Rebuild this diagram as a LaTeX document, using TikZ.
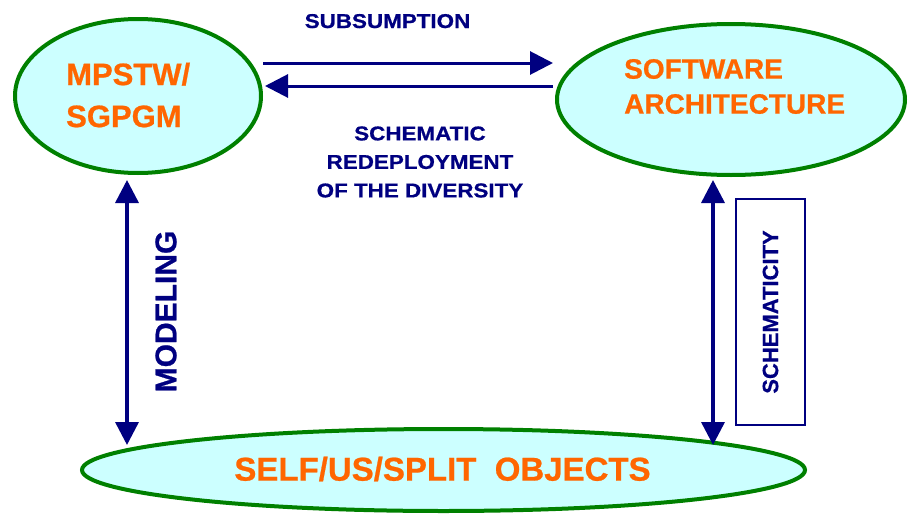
\documentclass[tikz,border=0pt]{standalone}
\usepackage{fontspec}
\setmainfont{Liberation Sans}[BoldFeatures={FakeBold=0.7}]
\newfontfamily\widesans{Liberation Sans}[FakeStretch=1.12,BoldFeatures={FakeBold=0.7}]
\usetikzlibrary{shapes.geometric,arrows.meta}
\definecolor{navyblue}{HTML}{000080}
\definecolor{leafgreen}{HTML}{008000}
\definecolor{palecyan}{HTML}{CCFFFF}
\definecolor{tangerine}{HTML}{FF6600}
\begin{document}
\begin{tikzpicture}[x=1pt,y=-1pt,
  bubble/.style={ellipse, draw=leafgreen, fill=palecyan, line width=4pt, inner sep=0pt},
  bubbletxt/.style={text=tangerine, inner sep=0pt},
  linktxt/.style={text=navyblue, inner sep=0pt},
  link/.style={draw=navyblue, line width=3pt, -{Triangle[length=23pt,width=23pt]}},
  twoway/.style={draw=navyblue, line width=3.5pt, {Triangle[length=23pt,width=23pt]}-{Triangle[length=23pt,width=23pt]}}
]
\useasboundingbox (0,0) rectangle (908,514);

% the three concepts
\node[bubble, minimum width=246pt, minimum height=154pt] (mps) at (138,96) {};
\node[bubble, minimum width=348pt, minimum height=151pt] (arch) at (731,99.5) {};
\node[bubble, minimum width=723pt, minimum height=82pt] (objs) at (443.5,470) {};

\node[bubbletxt, anchor=west, align=left, font=\bfseries\fontsize{31}{42}\selectfont] (mpstxt) at (66,95) {MPSTW/\\SGPGM};
\node[bubbletxt, anchor=west, align=left, font=\bfseries\fontsize{28}{35}\selectfont] (archtxt) at (624,86.5) {SOFTWARE\\ARCHITECTURE};
\node[bubbletxt, font=\bfseries\fontsize{33}{40}\selectfont] (objstxt) at (442.5,469) {SELF/US/SPLIT\ \ OBJECTS};

% horizontal relations
\draw[link] ([yshift=33pt]mps.east) -- ([xshift=-2pt,yshift=36.5pt]arch.west);
\draw[link] ([xshift=-2pt,yshift=13.5pt]arch.west) -- ([xshift=2pt,yshift=10pt]mps.east);

\node[linktxt, anchor=base, font=\widesans\bfseries\fontsize{20}{24}\selectfont] (subs) at (387.5,28) {SUBSUMPTION};
\node[linktxt, align=center, font=\widesans\bfseries\fontsize{20}{28.5}\selectfont] (redep) at (420,162) {SCHEMATIC\\REDEPLOYMENT\\OF THE DIVERSITY};

% vertical relations
\draw[twoway] ([xshift=-11pt,yshift=-5pt]mps.south) -- ([xshift=-316.5pt,yshift=-18pt]objs.north);
\draw[twoway] ([xshift=-18pt,yshift=-3pt]arch.south) -- ([xshift=269.5pt,yshift=-18pt]objs.north);

\node[linktxt, rotate=90, font=\bfseries\fontsize{30}{36}\selectfont] (model) at (166,311.5) {MODELING};
\node[linktxt, rectangle, draw=navyblue, line width=1.2pt, rotate=90, minimum width=226pt, minimum height=69pt,
      font=\bfseries\fontsize{22}{26}\selectfont] (schem) at (770.5,312) {SCHEMATICITY};
\end{tikzpicture}
\end{document}
